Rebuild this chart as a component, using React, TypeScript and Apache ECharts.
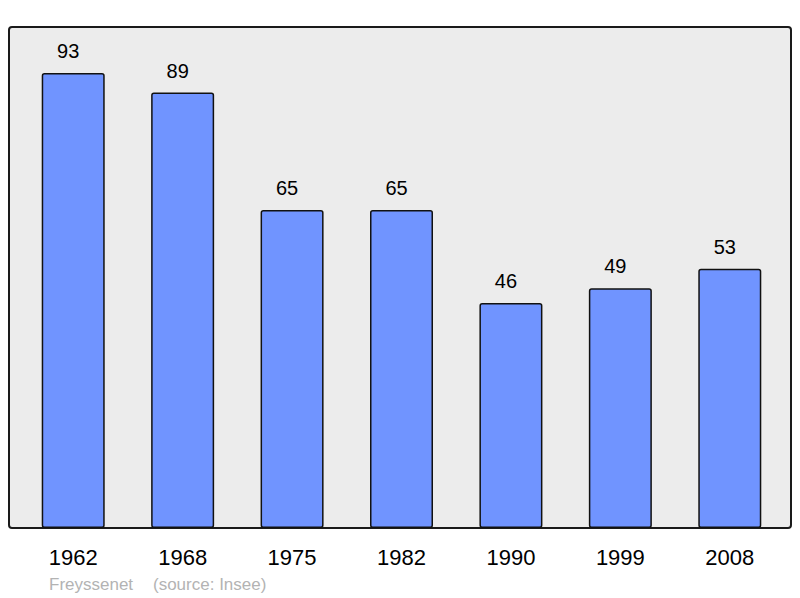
import React, { useEffect, useRef } from "react";
import * as echarts from "echarts";

const years = ["1962", "1968", "1975", "1982", "1990", "1999", "2008"];
const population = [93, 89, 65, 65, 46, 49, 53];
const footerName = "Freyssenet";
const footerSource = "(source: Insee)";

export default function App() {
  const ref = useRef<HTMLDivElement>(null);
  useEffect(() => {
    if (!ref.current) return;
    const chart = echarts.init(ref.current, null, { renderer: "svg" });
    const font = "Liberation Sans, Arial, sans-serif";
    chart.setOption({
      animation: false,
      textStyle: { fontFamily: font },
      grid: { left: 18.5, top: 27, width: 766, height: 501 },
      xAxis: {
        type: "category",
        data: years,
        axisLine: { show: false },
        axisTick: { show: false },
        axisLabel: { fontSize: 22, color: "#000", margin: 18 },
      },
      yAxis: {
        type: "value",
        min: 0,
        max: 102.4,
        show: false,
        splitLine: { show: false },
      },
      graphic: [
        {
          type: "rect",
          z: -10,
          shape: { x: 9, y: 27, width: 782, height: 501, r: 3 },
          style: { fill: "#ececec", stroke: "#1a1a1a", lineWidth: 2 },
        },
        {
          type: "text",
          x: 49,
          y: 584,
          style: {
            text: footerName,
            fill: "#b3b3b3",
            fontSize: 17,
            fontFamily: font,
            verticalAlign: "middle",
          },
        },
        {
          type: "text",
          x: 153,
          y: 584,
          style: {
            text: footerSource,
            fill: "#b3b3b3",
            fontSize: 17,
            fontFamily: font,
            verticalAlign: "middle",
          },
        },
      ],
      series: [
        {
          type: "bar",
          data: population,
          barWidth: 63,
          itemStyle: {
            color: "#7094ff",
            borderColor: "#111",
            borderWidth: 1.5,
            borderRadius: 2,
          },
          label: {
            show: true,
            position: "top",
            distance: 12,
            offset: [-5, 0],
            fontSize: 20,
            color: "#000",
          },
        },
      ],
    });
    return () => chart.dispose();
  }, []);
  return <div ref={ref} style={{ width: 800, height: 598, position: "absolute", left: 0, top: 0 }} />;
}
